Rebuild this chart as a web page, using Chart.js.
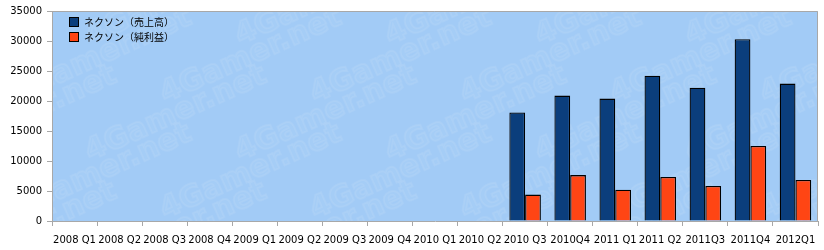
<!DOCTYPE html>
<html>
<head>
<meta charset="utf-8">
<script src="https://cdn.jsdelivr.net/npm/chart.js@4"></script>
<style>
  html, body { margin: 0; padding: 0; background: #fff; }
  #wrap { width: 824px; height: 250px; }
</style>
</head>
<body>
<div id="wrap"><canvas id="grafico"></canvas></div>
<script>
// dados
const trimestres = ["2008 Q1", "2008 Q2", "2008 Q3", "2008 Q4", "2009 Q1", "2009 Q2", "2009 Q3", "2009 Q4",
    "2010 Q1", "2010 Q2", "2010 Q3", "2010Q4", "2011 Q1", "2011 Q2", "2011Q3", "2011Q4", "2012Q1"];
const vendas = [null, null, null, null, null, null, null, null, null, null, 18100, 20900, 20400, 24200, 22200, 30300, 22900];
const lucro = [null, null, null, null, null, null, null, null, null, null, 4400, 7650, 5200, 7350, 5850, 12500, 6850];
const nomesSeries = ["ネクソン（売上高）", "ネクソン（純利益）"];
const marcaDagua = "4Gamer.net";

const cores = {
    fundo: "#a2cbf6",
    azul: "#0b3e7c",
    vermelho: "#ff4514",
    eixo: "#a8a8a8"
};

// fundo azul + marca d'agua
const fundoPlugin = {
    id: 'fundo',
    beforeDraw(chart) {
        const { ctx, chartArea: a } = chart;
        ctx.save();
        ctx.fillStyle = cores.fundo;
        ctx.fillRect(a.left, a.top, a.right - a.left, a.bottom - a.top);
        ctx.beginPath();
        ctx.rect(a.left, a.top, a.right - a.left, a.bottom - a.top);
        ctx.clip();
        ctx.font = "bold 30px 'DejaVu Sans'";
        ctx.strokeStyle = "rgba(255,255,255,0.08)";
        ctx.fillStyle = "rgba(255,255,255,0.04)";
        ctx.lineWidth = 2;
        let linha = 0;
        for (let y = 0; y < 300; y += 58) {
            for (let x = -60; x < 900; x += 150) {
                ctx.save();
                ctx.translate(x + (linha % 2) * 75, y + 45);
                ctx.rotate(-0.42);
                ctx.fillText(marcaDagua, 0, 0);
                ctx.strokeText(marcaDagua, 0, 0);
                ctx.restore();
            }
            linha++;
        }
        ctx.restore();
        // borda superior e direita
        ctx.save();
        ctx.strokeStyle = cores.eixo;
        ctx.lineWidth = 1;
        ctx.beginPath();
        ctx.moveTo(a.left, a.top + 0.5);
        ctx.lineTo(a.right - 0.5, a.top + 0.5);
        ctx.lineTo(a.right - 0.5, a.bottom);
        ctx.stroke();
        ctx.restore();
    }
};

// legenda dentro da area do grafico
const legendaPlugin = {
    id: 'legendaInterna',
    afterDatasetsDraw(chart) {
        const { ctx, chartArea: a } = chart;
        ctx.save();
        ctx.font = "10px 'Noto Sans CJK JP'";
        ctx.textBaseline = 'middle';
        chart.data.datasets.forEach((ds, i) => {
            const x = a.left + 17;
            const y = a.top + 6 + i * 15;
            ctx.fillStyle = ds.backgroundColor;
            ctx.fillRect(x + 0.5, y + 0.5, 9, 9);
            ctx.strokeStyle = "#000";
            ctx.lineWidth = 1;
            ctx.strokeRect(x + 0.5, y + 0.5, 9, 9);
            ctx.fillStyle = "#000";
            ctx.fillText(ds.label, x + 15, y + 5);
        });
        ctx.restore();
    }
};

const ctx = document.getElementById("grafico");

new Chart(ctx, {
    type: 'bar',
    data: {
        labels: trimestres,
        datasets: [{
            label: nomesSeries[0],
            data: vendas,
            backgroundColor: cores.azul,
            borderColor: '#000',
            borderWidth: 1.3,
            categoryPercentage: 0.7,
            barPercentage: 1.0
        }, {
            label: nomesSeries[1],
            data: lucro,
            backgroundColor: cores.vermelho,
            borderColor: '#000',
            borderWidth: 1.3,
            categoryPercentage: 0.7,
            barPercentage: 1.0
        }]
    },
    options: {
        responsive: true,
        maintainAspectRatio: false,
        animation: false,
        layout: { padding: { top: 9, right: 6, left: 0, bottom: 0 } },
        plugins: {
            legend: { display: false },
            tooltip: { enabled: false }
        },
        scales: {
            x: {
                grid: {
                    offset: true,
                    drawOnChartArea: false,
                    tickLength: 5,
                    color: cores.eixo
                },
                border: { color: cores.eixo },
                ticks: {
                    autoSkip: false,
                    maxRotation: 0,
                    minRotation: 0,
                    padding: 8,
                    color: '#000',
                    font: { family: "'DejaVu Sans'", size: 10 }
                },
                afterFit(escala) { escala.height = 29; }
            },
            y: {
                min: 0,
                max: 35000,
                grid: {
                    drawOnChartArea: false,
                    tickLength: 5,
                    color: cores.eixo
                },
                border: { color: cores.eixo },
                ticks: {
                    stepSize: 5000,
                    padding: 5,
                    color: '#000',
                    font: { family: "'DejaVu Sans'", size: 10 },
                    callback: (v) => String(v)
                },
                afterFit(escala) { escala.width = 52; }
            }
        }
    },
    plugins: [fundoPlugin, legendaPlugin]
});
</script>
</body>
</html>
